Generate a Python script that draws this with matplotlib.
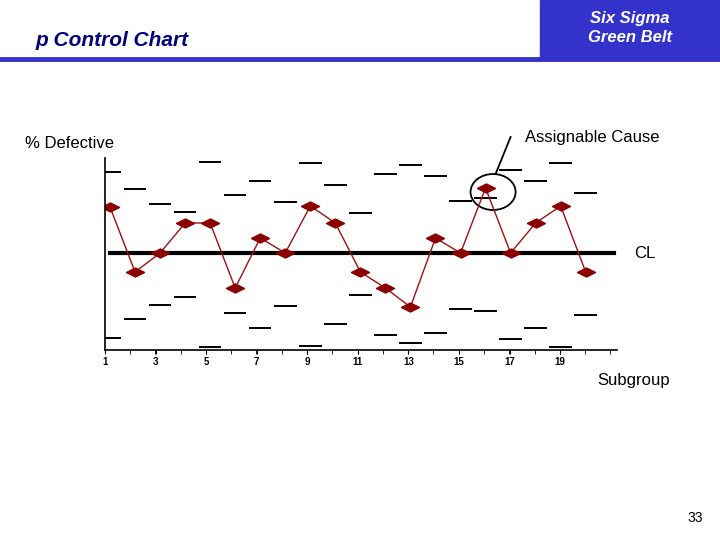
import matplotlib.pyplot as plt
from matplotlib.patches import Ellipse, Rectangle
import numpy as np

subgroups = list(range(1, 21))
pct_defective = [14.3, 7.8, 9.7, 12.7, 12.7, 6.2, 11.2, 9.7, 14.4, 12.7,
                 7.8, 6.2, 4.3, 11.2, 9.7, 16.2, 9.7, 12.7, 14.4, 7.8]
ucl = [17.8, 16.1, 14.6, 13.8, 18.8, 15.5, 16.9, 14.8, 18.7, 16.5,
       13.7, 17.6, 18.5, 17.4, 14.9, 15.2, 18.0, 16.9, 18.7, 15.7]
lcl = [1.2, 3.1, 4.5, 5.3, 0.3, 3.7, 2.2, 4.4, 0.4, 2.6,
       5.5, 1.5, 0.7, 1.7, 4.1, 3.9, 1.1, 2.2, 0.3, 3.5]
center_line = 9.7
tick_labels = ['1', '3', '5', '7', '9', '11', '13', '15', '17', '19']

fig = plt.figure(figsize=(7.2, 5.4), dpi=100)

# 幻灯片页眉
fig.add_artist(Rectangle((540 / 720, 1 - 58 / 540), 180 / 720, 58 / 540,
                         transform=fig.transFigure, color='#3333cc'))
fig.add_artist(plt.Line2D([0, 1], [1 - 59 / 540] * 2, transform=fig.transFigure,
                          color='#3333cc', lw=3.5))
fig.text(630 / 720, 1 - 28 / 540, 'Six Sigma\nGreen Belt', color='white', ha='center',
         va='center', fontsize=12, fontweight='bold', style='italic', family='Liberation Sans',
         linespacing=1.25)
fig.text(35 / 720, 1 - 41 / 540, 'p Control Chart', color='#000080', ha='left', va='center',
         fontsize=15, fontweight='bold', style='italic', family='Liberation Sans')
fig.text(703 / 720, 1 - 518 / 540, '33', ha='right', va='center', fontsize=10,
         family='Liberation Sans')

ax = fig.add_axes([105 / 720, 1 - 350 / 540, 512 / 720, 192 / 540])
ax.set_xlim(0.8, 21.25)
ax.set_ylim(0, 19.2)
ax.patch.set_alpha(0)
for s in ['top', 'right']:
    ax.spines[s].set_visible(False)
ax.spines['left'].set_linewidth(1.2)
ax.spines['bottom'].set_linewidth(1.2)

# 控制限短线
ax.hlines(ucl, np.array(subgroups) - 0.45, np.array(subgroups) + 0.45, color='black', lw=1.4)
ax.hlines(lcl, np.array(subgroups) - 0.45, np.array(subgroups) + 0.45, color='black', lw=1.4)
ax.axhline(center_line, xmin=0.01, xmax=0.995, color='black', lw=3)

diamond = [(-1, 0), (0, 0.5), (1, 0), (0, -0.5), (-1, 0)]
ax.plot(subgroups, pct_defective, color='#a01010', lw=1, marker=diamond,
        markersize=13, markerfacecolor='#8b0000', markeredgecolor='#8b0000')

ax.set_xticks([0.8 + (int(t) - 1) * 1.01 for t in tick_labels])
ax.set_xticklabels(tick_labels, fontsize=7, fontweight='bold', family='Liberation Sans')
ax.set_xticks(np.arange(1.8, 21, 1.01), minor=True)
ax.tick_params(axis='x', length=3, pad=2)
ax.tick_params(axis='x', which='minor', length=3)
ax.set_yticks([])

# 异常点标注
ax.add_patch(Ellipse((16.3, 15.8), 1.8, 3.6, fill=False, lw=1.3, color='black'))
ax.plot([16.4, 17.0], [17.6, 21.3], color='black', lw=1.3, clip_on=False)

fig.text(25 / 720, 1 - 143 / 540, '% Defective', fontsize=12, va='center', family='Liberation Sans')
fig.text(525 / 720, 1 - 137 / 540, 'Assignable Cause', fontsize=12, va='center', family='Liberation Sans')
fig.text(597 / 720, 1 - 381 / 540, 'Subgroup', fontsize=12, va='center', family='Liberation Sans')
fig.text(634 / 720, 1 - 253 / 540, 'CL', fontsize=12, va='center', family='Liberation Sans')

fig.savefig('out.png', dpi=100)
